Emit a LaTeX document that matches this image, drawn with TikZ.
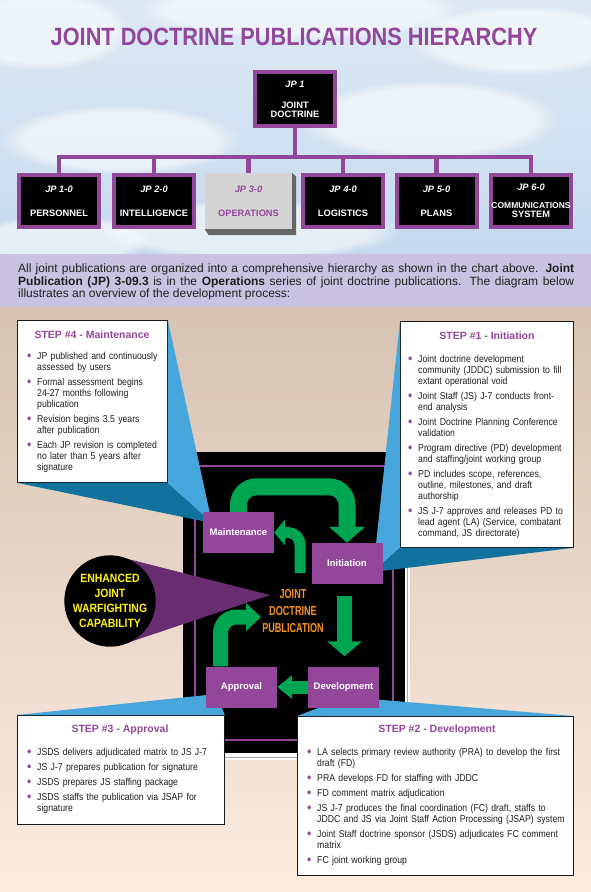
\documentclass[tikz,border=0pt]{standalone}
\usepackage{fontspec}
\setmainfont{Liberation Sans}
\newfontfamily\narrowfont[FakeStretch=0.87]{Liberation Sans}
\newfontfamily\condfont[FakeStretch=0.7]{Liberation Sans}
\usetikzlibrary{arrows.meta,positioning,fadings}

\definecolor{jdpurple}{HTML}{93479A}
\definecolor{wedgepurple}{HTML}{6A2C70}
\definecolor{calloutlight}{HTML}{47A7DD}
\definecolor{calloutdark}{HTML}{12729F}
\definecolor{flowgreen}{HTML}{00A551}
\definecolor{puborange}{HTML}{F7941D}
\definecolor{enhyellow}{HTML}{FFF200}
\definecolor{skytop}{HTML}{DDE9F5}
\definecolor{skybottom}{HTML}{C6DAEE}
\definecolor{lavender}{HTML}{C9C3E1}
\definecolor{tantop}{HTML}{D6C3B3}
\definecolor{tanbottom}{HTML}{FCECE0}
\definecolor{optgray}{HTML}{D4D4D4}

\newcommand\stepitem[1]{\par\hangindent=10pt\hangafter=1\noindent\makebox[10pt][l]{\textcolor{jdpurple}{\raisebox{-0.8pt}{\fontsize{14}{10}\selectfont\textbullet}}}#1\par}

\begin{document}
\begin{tikzpicture}[x=1pt,y=-1pt,
  jpbox/.style={draw=jdpurple,line width=4pt,fill=black,text=white,minimum width=80pt,minimum height=52pt,align=center,inner sep=0pt,font=\bfseries\fontsize{9.3}{9}\selectfont},
  treeline/.style={draw=jdpurple,line width=4.5pt},
  cloud/.style={fill=white,opacity=0.55,path fading=circle with fuzzy edge 20 percent},
  stepbox/.style={draw=black!90,line width=0.8pt,fill=white,anchor=north west,inner sep=0pt},
  stephead/.style={text=jdpurple,font=\bfseries\fontsize{10.5}{12}\selectfont},
  steptext/.style={anchor=north west,inner sep=0pt,align=left,text=black!88,font=\narrowfont\fontsize{10}{11}\selectfont,execute at begin node=\setlength{\parskip}{4pt}},
  phase/.style={fill=jdpurple,text=white,minimum width=71pt,minimum height=41pt,inner sep=0pt,font=\bfseries\fontsize{9.5}{10}\selectfont},
  flowarrow/.style={draw=flowgreen,line width=17pt,-{Triangle[width=35pt,length=16pt]}}]
\useasboundingbox (0,0) rectangle (591,892);
\shade[top color=skytop,bottom color=skybottom] (0,0) rectangle (591,254);
\begin{scope}
\clip (0,0) rectangle (591,254);
\foreach \cx/\cy/\rx/\ry in {40/30/90/40,300/10/160/30,520/40/110/35,120/140/120/35,430/120/130/40,250/230/150/30,60/240/90/25}
  \fill[cloud] (\cx,\cy) ellipse ({\rx} and {\ry});
\end{scope}
\fill[lavender] (0,254) rectangle (591,307);
\shade[top color=tantop,bottom color=tanbottom] (0,307) rectangle (591,892);

\node[text=jdpurple,font=\narrowfont\bfseries\fontsize{25}{25}\selectfont] (title) at (294,37) {JOINT DOCTRINE PUBLICATIONS HIERARCHY};

\node[jpbox,minimum height=54pt] (jp1) at (295,99) {\textit{JP 1}\\[12pt]JOINT\\DOCTRINE};
\foreach \nm/\cx/\num/\lbl in {jp10/59/1-0/PERSONNEL,jp20/154/2-0/INTELLIGENCE,jp40/343/4-0/LOGISTICS,jp50/436.5/5-0/PLANS}
  \node[jpbox] (\nm) at (\cx,201) {\textit{JP \num}\\[15pt]\lbl};
\node[jpbox] (jp60) at (531,201) {\textit{JP 6-0}\\[9pt]{\fontsize{8.5}{9}\selectfont COMMUNICATIONS}\\SYSTEM};
\node[fill=optgray,text=jdpurple,minimum width=87pt,minimum height=56pt,align=center,inner sep=0pt,font=\bfseries\fontsize{9.3}{9}\selectfont] (jp30) at (248.5,201) {\textit{JP 3-0}\\[15pt]OPERATIONS};
\fill[black!60] (jp30.north east) -- ([shift={(4pt,-4pt)}]jp30.north east) -- ([shift={(4pt,-6pt)}]jp30.south east) -- ([shift={(4pt,-6pt)}]jp30.south west) -- (jp30.south west) -- (jp30.south east) -- cycle;
\foreach \nm in {jp10,jp20,jp30,jp40,jp50,jp60}
  \draw[treeline] (jp1.south) -- ++(0,29) -| (\nm.north);

\node[anchor=north west,text width=556pt,align=justify,inner sep=0pt,text=black!88,font=\fontsize{12}{12.1}\selectfont] (intro) at (18,264) {All joint publications are organized into a comprehensive hierarchy as shown in the chart above. \textbf{Joint}\linebreak \textbf{Publication (JP) 3-09.3} is in the \textbf{Operations} series of joint doctrine publications. The diagram below\linebreak illustrates an overview of the development process:};

\fill[white] (186,455) rectangle (410,760);
\draw[black!35,line width=0.8pt] (188,757.5) -- (407.5,757.5) -- (407.5,457);
\fill[black] (183,452) rectangle (405,753);
\draw[jdpurple,line width=1.5pt] (195,466) rectangle (393,740);

\coordinate (enhup) at (124,558);
\coordinate (enhlow) at (124,644);
\coordinate (enhtip) at (270,595);
\fill[wedgepurple] (enhup) -- (enhtip) -- (enhlow) -- cycle;
\node[circle,fill=black,minimum size=91pt,inner sep=0pt,align=center,text=enhyellow,font=\narrowfont\bfseries\fontsize{12}{15}\selectfont] (enh) at (110,601) {ENHANCED\\JOINT\\WARFIGHTING\\CAPABILITY};
\node[align=center,inner sep=0pt,text=puborange,font=\condfont\bfseries\fontsize{13}{17}\selectfont] (pub) at (293,611) {JOINT\\DOCTRINE\\PUBLICATION};

\node[stepbox,minimum width=150pt,minimum height=162pt] (s4box) at (17,320) {};
\node[stepbox,minimum width=173pt,minimum height=226pt] (s1box) at (400,321) {};
\node[stepbox,minimum width=207pt,minimum height=109pt] (s3box) at (17,715) {};
\node[stepbox,minimum width=276pt,minimum height=159pt] (s2box) at (297,716) {};

\node[stephead] (s4head) at (92,335) {STEP \#4 - Maintenance};
\node[stephead] (s1head) at (487,336) {STEP \#1 - Initiation};
\node[stephead] (s3head) at (120,730) {STEP \#3 - Approval};
\node[stephead] (s2head) at (437,730) {STEP \#2 - Development};

\node[steptext,text width=136pt] (s4text) at (27,344) {\stepitem{JP published and continuously\newline assessed by users}\stepitem{Formal assessment begins\newline 24-27 months following\newline publication}\stepitem{Revision begins 3.5 years\newline after publication}\stepitem{Each JP revision is completed\newline no later than 5 years after\newline signature}};
\node[steptext,text width=160pt] (s1text) at (408,347) {\stepitem{Joint doctrine development\newline community (JDDC) submission to fill\newline extant operational void}\stepitem{Joint Staff (JS) J-7 conducts front-\newline end analysis}\stepitem{Joint Doctrine Planning Conference\newline validation}\stepitem{Program directive (PD) development\newline and staffing/joint working group}\stepitem{PD includes scope, references,\newline outline, milestones, and draft\newline authorship}\stepitem{JS J-7 approves and releases PD to\newline lead agent (LA) (Service, combatant\newline command, JS directorate)}};
\node[steptext,text width=190pt] (s3text) at (27,740) {\stepitem{JSDS delivers adjudicated matrix to JS J-7}\stepitem{JS J-7 prepares publication for signature}\stepitem{JSDS prepares JS staffing package}\stepitem{JSDS staffs the publication via JSAP for\newline signature}};
\node[steptext,text width=262pt] (s2text) at (307,740) {\stepitem{LA selects primary review authority (PRA) to develop the first\newline draft (FD)}\stepitem{PRA develops FD for staffing with JDDC}\stepitem{FD comment matrix adjudication}\stepitem{JS J-7 produces the final coordination (FC) draft, staffs to\newline JDDC and JS via Joint Staff Action Processing (JSAP) system}\stepitem{Joint Staff doctrine sponsor (JSDS) adjudicates FC comment\newline matrix}\stepitem{FC joint working group}};

\coordinate (s4tip) at (212,523);
\coordinate (s1tip) at (373,572);
\coordinate (s3tip) at (216,694);
\coordinate (s2tip) at (347,697);
\fill[calloutdark] (s4box.south west) -- (s4box.south east) -- (s4tip) -- cycle;
\fill[calloutlight] (s4box.north east) -- (s4tip) -- (s4box.south east) -- cycle;
\fill[calloutlight] (s1box.north west) -- (s1tip) -- (s1box.south west) -- cycle;
\fill[calloutdark] (s1box.south west) -- (s1tip) -- (s1box.south east) -- cycle;
\fill[calloutlight] (s3box.north west) -- (s3tip) -- (s3box.north east) -- cycle;
\fill[calloutlight] (s2box.north west) -- (s2tip) -- (s2box.north east) -- cycle;

\node[phase] (maint) at (238.5,532.5) {Maintenance};
\node[phase] (init) at (347,563.5) {Initiation};
\node[phase] (approv) at (241.5,687) {Approval};
\node[phase] (devel) at (343.5,687) {Development};

\coordinate (retfoot) at (300,573);
\draw[flowarrow,rounded corners=18pt] (maint.north) -- ++(0,-25) -| (init.north);
\draw[flowarrow,line width=15pt,-{Triangle[width=34pt,length=15pt]},shorten <=12pt,shorten >=10pt] ([xshift=-2.5pt]init.south) -- ([xshift=-2.5pt]init.south |- devel.north);
\draw[flowarrow,line width=13pt,-{Triangle[width=23pt,length=15pt]}] (devel.west) -- (approv.east);
\draw[flowarrow,line width=15pt,-{Triangle[width=27pt,length=15pt]},rounded corners=16pt] ([xshift=-21pt]approv.north) |- ([shift={(-1pt,-6pt)}]pub.west);
\draw[flowarrow,line width=11pt,-{Triangle[width=26pt,length=11pt]},rounded corners=12pt] (retfoot) |- (maint.east);
\end{tikzpicture}
\end{document}
